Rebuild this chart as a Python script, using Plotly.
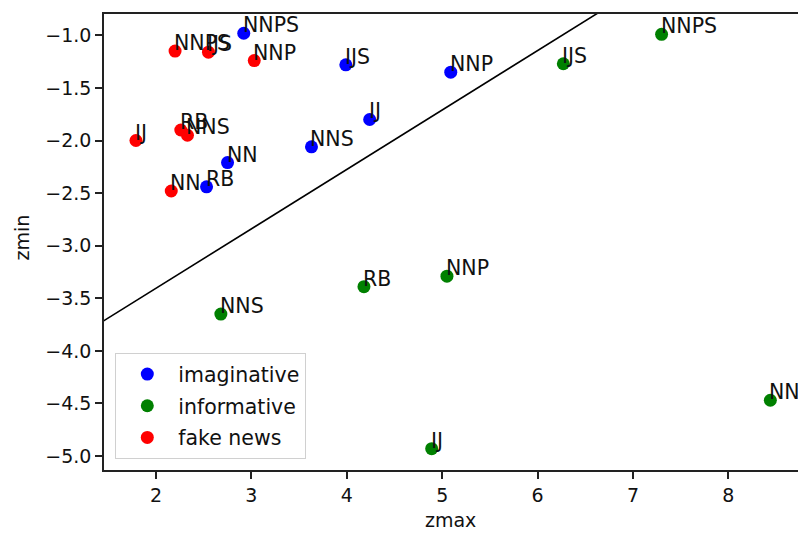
import plotly.graph_objects as go

labels = ["NNPS", "IJS", "NNP", "IJ", "NNS", "NN", "RB"]

imaginative_zmax = [2.92, 3.99, 5.09, 4.24, 3.63, 2.75, 2.53]
imaginative_zmin = [-0.98, -1.28, -1.35, -1.80, -2.06, -2.21, -2.44]

informative_zmax = [7.30, 6.27, 5.05, 4.89, 2.68, 8.44, 4.18]
informative_zmin = [-0.99, -1.27, -3.29, -4.93, -3.65, -4.47, -3.39]

fake_zmax = [2.20, 2.55, 3.03, 1.79, 2.33, 2.16, 2.26]
fake_zmin = [-1.15, -1.16, -1.24, -2.00, -1.95, -2.48, -1.90]

boundary_x = [1.0, 7.0]
boundary_y = [-3.97, -0.58]

series = [
    ("imaginative", "#0000ff", imaginative_zmax, imaginative_zmin),
    ("informative", "#008000", informative_zmax, informative_zmin),
    ("fake news", "#ff0000", fake_zmax, fake_zmin),
]

FONT = "DejaVu Sans"
FS = 19
FS_TXT = 20.5

fig = go.Figure()
fig.add_trace(go.Scatter(x=boundary_x, y=boundary_y, mode="lines",
                         line=dict(color="black", width=1.6), showlegend=False,
                         hoverinfo="skip"))

annotations = []
for i, (name, color, xs, ys) in enumerate(series):
    fig.add_trace(go.Scatter(x=xs, y=ys, mode="markers", name=name,
                             legendgroup="g%d" % i,
                             marker=dict(color=color, size=13, line=dict(width=0))))
    for lx, ly, lt in zip(xs, ys, labels):
        annotations.append(dict(x=lx, y=ly, text=lt, showarrow=False,
                                xanchor="left", yanchor="bottom",
                                xshift=-3, yshift=-6,
                                font=dict(family=FONT, size=FS_TXT, color="#111111")))

# axis titles
annotations.append(dict(text="zmax", xref="paper", yref="paper", x=0.499, y=-0.11,
                        xanchor="center", yanchor="middle", showarrow=False,
                        font=dict(family=FONT, size=FS, color="#111111")))
annotations.append(dict(text="zmin", xref="paper", yref="paper", x=-0.118, y=0.51,
                        xanchor="center", yanchor="middle", showarrow=False, textangle=-90,
                        font=dict(family=FONT, size=FS, color="#111111")))

fig.update_layout(
    width=798, height=534,
    margin=dict(l=104, r=0, t=14, b=64),
    paper_bgcolor="white", plot_bgcolor="white",
    font=dict(family=FONT, size=FS, color="#111111"),
    annotations=annotations,
    legend=dict(x=0.016, y=0.024, xanchor="left", yanchor="bottom",
                bgcolor="rgba(255,255,255,0.85)", bordercolor="#d0d0d0",
                borderwidth=1.2, font=dict(family=FONT, size=FS_TXT),
                tracegroupgap=2, itemwidth=52),
    xaxis=dict(range=[1.455, 8.73], tickvals=[2, 3, 4, 5, 6, 7, 8],
               automargin=False,
               showgrid=False, zeroline=False, showline=True, mirror=True,
               linecolor="#222222", linewidth=1.5,
               ticks="outside", ticklen=7, tickwidth=1.5, tickcolor="#222222"),
    yaxis=dict(range=[-5.133, -0.797], tick0=-5.0, dtick=0.5, tickformat=".1f",
               automargin=False,
               showgrid=False, zeroline=False, showline=True, mirror=False,
               linecolor="#222222", linewidth=1.5,
               ticks="outside", ticklen=7, tickwidth=1.5, tickcolor="#222222"),
)

fig.write_html("out.html", config={"displayModeBar": False})

# remove the browser's default page margin so the figure sits at the top-left corner
with open("out.html", "r", encoding="utf-8") as f:
    html = f.read()
html = html.replace("<head>", "<head><style>html,body{margin:0;padding:0;overflow:hidden;}</style>", 1)
with open("out.html", "w", encoding="utf-8") as f:
    f.write(html)
